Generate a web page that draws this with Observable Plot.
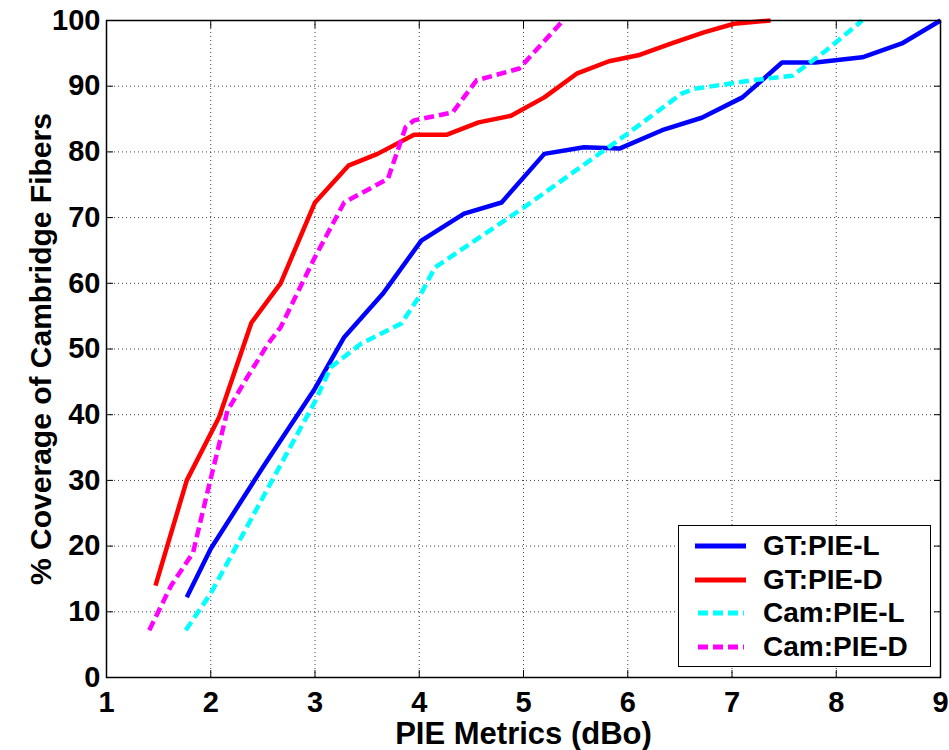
<!DOCTYPE html>
<html>
<head>
<meta charset="utf-8">
<script src="https://cdn.jsdelivr.net/npm/d3@7"></script>
<script src="https://cdn.jsdelivr.net/npm/@observablehq/plot@0.6"></script>
<style>
  html, body { margin: 0; padding: 0; background: #fff; }
  #wrap { position: relative; width: 949px; height: 750px; font-family: "Liberation Sans", Arial, sans-serif; font-weight: bold; }
  #legend { position: absolute; left: 678px; top: 525px; width: 253px; height: 142px; border: 1px solid #000; background: #fff; box-sizing: border-box; }
  #legend .row { position: absolute; left: 0; height: 34px; display: flex; align-items: center; }
  #legend .row span { font-size: 28px; line-height: 34px; color: #000; margin-left: 16px; }
</style>
</head>
<body>
<div id="wrap"><div id="chart"></div><div id="legend"></div></div>
<script>
// ---- data ----
const seriesNames = ["GT:PIE-L", "GT:PIE-D", "Cam:PIE-L", "Cam:PIE-D"];
const seriesColors = ["#0000ff", "#ff0000", "#00ffff", "#ff00ff"];
const seriesDashed = [false, false, true, true];

const gtL_x = [1.77, 2.0, 2.5, 3.0, 3.28, 3.65, 4.02, 4.43, 4.79, 5.2, 5.58, 5.92, 6.33, 6.71, 7.1, 7.48, 7.8, 8.25, 8.63, 9.0];
const gtL_y = [12.2, 19.6, 32, 44, 51.8, 58.4, 66.5, 70.6, 72.3, 79.7, 80.7, 80.5, 83.3, 85.2, 88.3, 93.6, 93.6, 94.4, 96.5, 100];

const gtD_x = [1.47, 1.77, 2.08, 2.39, 2.67, 3.0, 3.32, 3.6, 3.95, 4.26, 4.57, 4.88, 5.2, 5.51, 5.82, 6.1, 6.4, 6.73, 7.02, 7.37];
const gtD_y = [14, 30, 39.6, 54, 60, 72.3, 77.9, 79.7, 82.6, 82.6, 84.5, 85.5, 88.3, 91.9, 93.8, 94.7, 96.4, 98.2, 99.5, 100];

const camL_x = [1.76, 2.0, 2.5, 3.0, 3.15, 3.44, 3.83, 4.02, 4.15, 5.0, 6.0, 6.52, 6.64, 7.19, 7.58, 7.9, 8.25];
const camL_y = [7.2, 12.8, 27.4, 42, 47.2, 50.8, 53.9, 58.5, 62.4, 71.5, 82.8, 88.9, 89.6, 90.9, 91.6, 95.4, 100];

const camD_x = [1.41, 1.62, 1.83, 1.98, 2.16, 2.35, 2.55, 2.67, 3.0, 3.28, 3.7, 3.87, 3.95, 4.32, 4.55, 4.96, 5.38];
const camD_y = [7.2, 14, 19, 29, 40.6, 45.7, 50.8, 53.3, 64, 72.3, 75.9, 83.8, 84.8, 86, 90.9, 92.7, 100];

const xTicks = [1, 2, 3, 4, 5, 6, 7, 8, 9];
const yTicks = [0, 10, 20, 30, 40, 50, 60, 70, 80, 90, 100];
const xLabel = "PIE Metrics (dBo)";
const yLabel = "% Coverage of Cambridge Fibers";

// ---- build ----
const seriesXY = [[gtL_x, gtL_y], [gtD_x, gtD_y], [camL_x, camL_y], [camD_x, camD_y]];
const toRows = (xs, ys) => xs.map((x, i) => ({x, y: ys[i]}));

const lineMarks = seriesXY.map(([xs, ys], i) =>
  Plot.line(toRows(xs, ys), {
    x: "x", y: "y",
    stroke: seriesColors[i],
    strokeWidth: 4.5,
    strokeDasharray: seriesDashed[i] ? "10,5" : null,
    strokeLinejoin: "round",
    strokeLinecap: "butt"
  })
);

const chart = Plot.plot({
  width: 949,
  height: 750,
  marginLeft: 106,
  marginRight: 9,
  marginTop: 20,
  marginBottom: 73,
  style: {fontFamily: "'Liberation Sans', Arial, sans-serif", fontWeight: "bold", fontSize: "29px", color: "#000", background: "#fff"},
  x: {domain: [1, 9]},
  y: {domain: [0, 100]},
  marks: [
    Plot.gridX(xTicks.slice(1, -1), {stroke: "#000", strokeOpacity: 0.75, strokeDasharray: "1,3", strokeWidth: 1}),
    Plot.gridY(yTicks.slice(1, -1), {stroke: "#000", strokeOpacity: 0.75, strokeDasharray: "1,3", strokeWidth: 1}),
    Plot.axisX(xTicks, {anchor: "bottom", tickSize: -7, tickPadding: 21, label: null, fontSize: 29}),
    Plot.axisX({anchor: "bottom", ticks: [], tickSize: 0, label: xLabel, labelAnchor: "center", labelArrow: "none", labelOffset: 66, fontSize: 31}),
    Plot.axisX(xTicks, {anchor: "top", tickSize: -7, tickFormat: () => "", label: null}),
    Plot.axisY(yTicks, {anchor: "left", tickSize: -7, tickPadding: 13, label: null, fontSize: 29}),
    Plot.axisY({anchor: "left", ticks: [], tickSize: 0, label: yLabel, labelAnchor: "center", labelArrow: "none", labelOffset: 77, fontSize: 30}),
    Plot.axisY(yTicks, {anchor: "right", tickSize: -7, tickFormat: () => "", label: null}),
    ...lineMarks,
    Plot.frame({stroke: "#000", strokeWidth: 1.5})
  ]
});
document.getElementById("chart").appendChild(chart);

// ---- legend (inside the axes, lower right) ----
const legend = document.getElementById("legend");
seriesNames.forEach((name, i) => {
  const row = document.createElement("div");
  row.className = "row";
  row.style.top = (3 + i * 33.5) + "px";
  const ns = "http://www.w3.org/2000/svg";
  const svg = document.createElementNS(ns, "svg");
  svg.setAttribute("width", 68); svg.setAttribute("height", 34);
  const ln = document.createElementNS(ns, "line");
  ln.setAttribute("x1", 16); ln.setAttribute("x2", 67);
  ln.setAttribute("y1", 17); ln.setAttribute("y2", 17);
  ln.setAttribute("stroke", seriesColors[i]);
  ln.setAttribute("stroke-width", 5);
  if (seriesDashed[i]) { ln.setAttribute("stroke-dasharray", "10,5"); ln.setAttribute("x1", 19); ln.setAttribute("x2", 65); }
  svg.appendChild(ln);
  row.appendChild(svg);
  const sp = document.createElement("span");
  sp.textContent = name;
  row.appendChild(sp);
  legend.appendChild(row);
});
</script>
</body>
</html>
